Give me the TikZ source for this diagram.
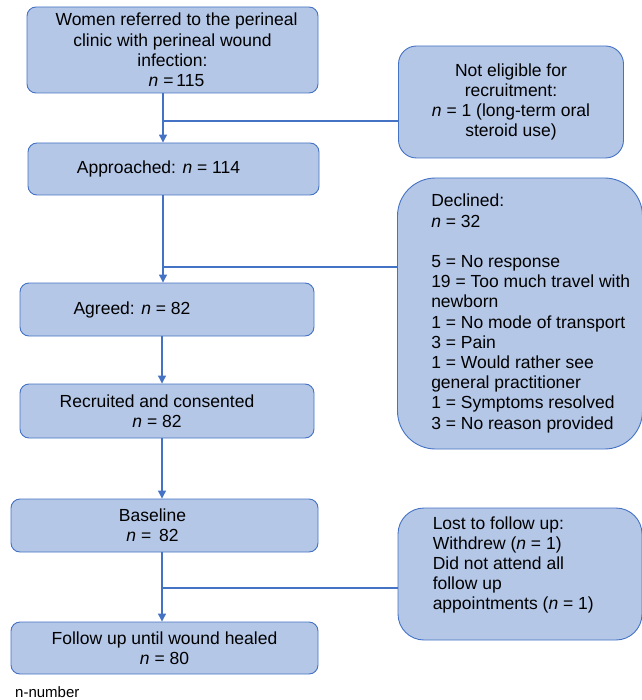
\documentclass[tikz,border=0pt]{standalone}
\usepackage{fontspec}
\setmainfont{Liberation Sans}
\usetikzlibrary{arrows.meta}
\definecolor{boxfill}{HTML}{B4C7E7}
\definecolor{boxline}{HTML}{4472C4}
\tikzset{
  box/.style={draw=boxline, fill=boxfill, line width=0.9pt, rounded corners=9pt,
    align=center, inner sep=0pt, font=\fontsize{17.5}{20.2}\selectfont},
  sidebox/.style={box, rounded corners=#1},
  flow/.style={draw=boxline, line width=1.2pt, -{Triangle[width=8pt,length=8pt]}},
  side/.style={draw=boxline, line width=1.2pt},
  txt/.style={align=left, inner sep=0pt, font=\fontsize{17.5}{20.2}\selectfont}
}
\begin{document}
\begin{tikzpicture}[x=1pt,y=-1pt]
\useasboundingbox (0,0) rectangle (641,700);
% main column
\node[box, minimum width=291pt, minimum height=86pt] (b1) at (172.5,50)
  {Women referred to the perineal\hspace*{-8pt}\\clinic with perineal wound\hspace*{-8pt}\\infection:\hspace*{-8pt}\\\textit{n} =\,115\hspace*{-8pt}};
\node[box, minimum width=291pt, minimum height=52pt] (b2) at (173.5,169)
  {Approached: \textit{n} = 114\hspace*{30pt}};
\node[box, minimum width=294pt, minimum height=53pt] (b3) at (167,309.5)
  {Agreed: \textit{n} = 82\hspace*{70pt}};
\node[box, minimum width=294pt, minimum height=54pt] (b4) at (167,411)
  {Recruited and consented\hspace*{20pt}\\\textit{n} = 82\hspace*{20pt}};
\node[box, minimum width=307pt, minimum height=53pt] (b5) at (164.5,525.5)
  {Baseline\hspace*{24pt}\\\textit{n} = \,82\hspace*{24pt}};
\node[box, minimum width=307pt, minimum height=52pt] (b6) at (164.5,648)
  {Follow up until wound healed\\\textit{n} = 80};
% side boxes
\node[sidebox=18pt, minimum width=225pt, minimum height=112pt] (ne) at (511,102)
  {Not eligible for\\recruitment:\\\textit{n} = 1 (long-term oral\\steroid use)};
\node[sidebox=38pt, minimum width=245pt, minimum height=271pt] (dec) at (520,313.5) {};
\node[txt, anchor=west] (dect) at ([xshift=34pt]dec.west)
  {Declined:\\\textit{n} = 32\\[20.2pt]5 = No response\\19 = Too much travel with\\newborn\\1 = No mode of transport\\3 = Pain\\1 = Would rather see\\general practitioner\\1 = Symptoms resolved\\3 = No reason provided};
\node[sidebox=26pt, minimum width=244pt, minimum height=132pt] (lost) at (520,574) {};
\node[txt, anchor=west] (lostt) at ([xshift=35pt,yshift=9pt]lost.west)
  {Lost to follow up:\\Withdrew (\textit{n} = 1)\\Did not attend all\\follow up\\appointments (\textit{n} = 1)};
% footnote
\node[anchor=west, inner sep=0pt, font=\fontsize{15}{17}\selectfont] (foot) at (15,692) {n-number};
% junction points
\coordinate (j1) at (163,121);
\coordinate (j2) at (163,267);
\coordinate (j3) at (162,588);
% connectors
\draw[flow] (b1.south -| j1) -- (b2.north -| j1);
\draw[side] (ne.west |- j1) -- (j1);
\draw[flow] (b2.south -| j2) -- (b3.north -| j2);
\draw[side] (dec.west |- j2) -- (j2);
\draw[flow] (b3.south -| j3) -- (b4.north -| j3);
\draw[flow] (b4.south -| j3) -- (b5.north -| j3);
\draw[flow] (b5.south -| j3) -- (b6.north -| j3);
\draw[side] (lost.west |- j3) -- (j3);
\end{tikzpicture}
\end{document}
